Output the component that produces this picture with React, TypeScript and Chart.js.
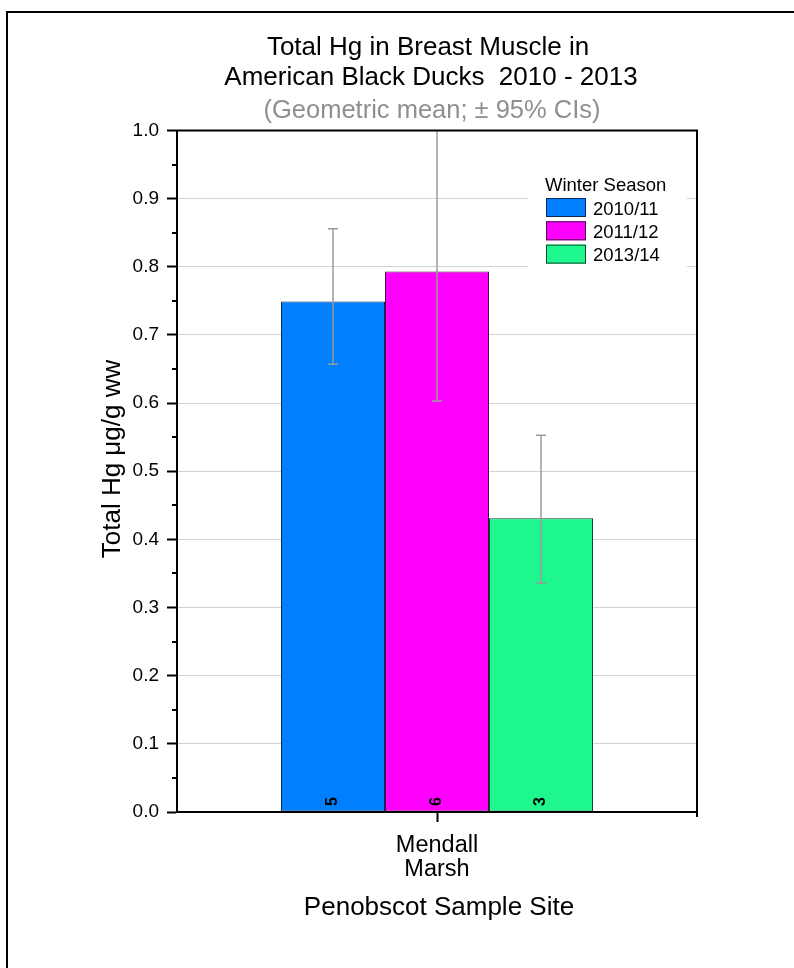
import React, { useEffect, useRef } from 'react';
import { Chart, registerables } from 'chart.js';

Chart.register(...registerables);

// ---------- data ----------
const categories = [['Mendall', 'Marsh']];
const seasons = ['2010/11', '2011/12', '2013/14'];
const geoMeans = [0.749, 0.793, 0.431];
const ciLower = [0.657, 0.603, 0.336];
const ciUpper = [0.856, 1.05, 0.553];
const sampleSizes = ['5', '6', '3'];
const yMin = 0;
const yMax = 1.0;
const yStep = 0.1;

const titleLines = ['Total Hg in Breast Muscle in', 'American Black Ducks  2010 - 2013'];
const subtitle = '(Geometric mean; \u00B1 95% CIs)';
const yTitle = 'Total Hg \u03BCg/g ww';
const xTitle = 'Penobscot Sample Site';
const legendTitle = 'Winter Season';

// ---------- styles ----------
const FONT = '"Liberation Sans", Arial, sans-serif';
const fills = ['#0080FF', '#FF00FF', '#1EF78E'];
const edges = ['#0B2B55', '#4A0B4A', '#0B4A2B'];

const overlay = {
  id: 'overlay',
  afterDatasetsDraw(chart: any) {
    const { ctx, chartArea: ca, scales } = chart;
    const y = scales.y;
    // error bars (clipped to plot area)
    ctx.save();
    ctx.beginPath();
    ctx.rect(ca.left, ca.top, ca.right - ca.left, ca.bottom - ca.top);
    ctx.clip();
    ctx.strokeStyle = '#9b9b9b';
    ctx.lineWidth = 1.5;
    chart.data.datasets.forEach((_ds: any, i: number) => {
      const bar = chart.getDatasetMeta(i).data[0];
      const cx = Math.round(bar.x);
      const yl = y.getPixelForValue(ciLower[i]);
      const yu = y.getPixelForValue(ciUpper[i]);
      ctx.beginPath();
      ctx.moveTo(cx, yl);
      ctx.lineTo(cx, yu);
      ctx.moveTo(cx - 5, yl);
      ctx.lineTo(cx + 5, yl);
      ctx.moveTo(cx - 5, yu);
      ctx.lineTo(cx + 5, yu);
      ctx.stroke();
    });
    ctx.restore();

    // sample size labels inside bars
    ctx.save();
    ctx.fillStyle = '#000';
    ctx.font = `bold 16px ${FONT}`;
    ctx.textAlign = 'center';
    ctx.textBaseline = 'middle';
    chart.data.datasets.forEach((_ds: any, i: number) => {
      const bar = chart.getDatasetMeta(i).data[0];
      ctx.save();
      ctx.translate(bar.x, ca.bottom - 10.5);
      ctx.rotate(-Math.PI / 2);
      ctx.fillText(sampleSizes[i], 0, 0);
      ctx.restore();
    });
    ctx.restore();

    // legend
    const lx = ca.right - 169;
    const ly = ca.top + 35;
    ctx.save();
    ctx.fillStyle = '#fff';
    ctx.fillRect(lx, ly, 159, 110);
    ctx.fillStyle = '#000';
    ctx.font = `18.5px ${FONT}`;
    ctx.textAlign = 'left';
    ctx.textBaseline = 'alphabetic';
    ctx.fillText(legendTitle, lx + 17, ly + 25);
    seasons.forEach((s, i) => {
      const by = ly + 32.5 + i * 23.3;
      ctx.fillStyle = fills[i];
      ctx.fillRect(lx + 18, by, 40, 19);
      ctx.strokeStyle = edges[i];
      ctx.lineWidth = 1;
      ctx.strokeRect(lx + 18.5, by + 0.5, 39, 18);
      ctx.fillStyle = '#000';
      ctx.fillText(s, lx + 65, by + 16.5);
    });
    ctx.restore();
  },
  afterDraw(chart: any) {
    const { ctx, chartArea: ca, scales } = chart;
    const y = scales.y;
    ctx.save();
    // minor ticks
    ctx.strokeStyle = '#000';
    ctx.lineWidth = 2;
    const majors = y.ticks.map((t: any) => t.value);
    for (let k = 0; k < majors.length - 1; k++) {
      const v = (majors[k] + majors[k + 1]) / 2;
      const py = Math.round(y.getPixelForValue(v));
      ctx.beginPath();
      ctx.moveTo(ca.left - 5, py);
      ctx.lineTo(ca.left, py);
      ctx.stroke();
    }
    // top and right frame of plot
    ctx.beginPath();
    ctx.moveTo(ca.left - 1, ca.top);
    ctx.lineTo(ca.right, ca.top);
    ctx.lineTo(ca.right, ca.bottom + 5);
    ctx.stroke();

    // outer frame
    ctx.beginPath();
    ctx.rect(7, 12, 900, 1000);
    ctx.stroke();

    // titles
    ctx.fillStyle = '#000';
    ctx.textAlign = 'center';
    ctx.textBaseline = 'alphabetic';
    ctx.font = `26px ${FONT}`;
    ctx.fillText(titleLines[0], 428, 55);
    ctx.fillText(titleLines[1], 431, 85);
    ctx.fillStyle = '#8f8f8f';
    ctx.font = `25.5px ${FONT}`;
    ctx.fillText(subtitle, 432, 118);

    // axis titles
    ctx.fillStyle = '#000';
    ctx.font = `26px ${FONT}`;
    ctx.textBaseline = 'middle';
    ctx.fillText(xTitle, 439, 908);
    ctx.save();
    ctx.translate(113, 459);
    ctx.rotate(-Math.PI / 2);
    ctx.fillText(yTitle, 0, 0);
    ctx.restore();
    ctx.restore();
  },
};

export default function App() {
  const ref = useRef<HTMLCanvasElement | null>(null);
  useEffect(() => {
    document.body.style.margin = '0';
    const canvas = ref.current;
    if (!canvas) return;
    const chart = new Chart(canvas, {
      type: 'bar',
      data: {
        labels: categories as any,
        datasets: seasons.map((s, i) => ({
          label: s,
          data: [geoMeans[i]],
          backgroundColor: fills[i],
          borderColor: edges[i],
          borderWidth: 1,
          borderSkipped: false,
          categoryPercentage: 0.6,
          barPercentage: 1.0,
        })),
      },
      options: {
        animation: false,
        responsive: false,
        devicePixelRatio: 1,
        layout: { padding: { left: 0, top: 130.5, right: 97, bottom: 66 } },
        plugins: {
          legend: { display: false },
          title: { display: false },
          tooltip: { enabled: false },
        },
        scales: {
          x: {
            type: 'category',
            offset: true,
            afterFit: (s: any) => {
              s.height = 90;
            },
            grid: {
              display: true,
              drawOnChartArea: false,
              drawTicks: true,
              offset: false,
              tickLength: 10,
              tickWidth: 2,
              tickColor: '#000',
            },
            border: { display: true, color: '#000', width: 2, z: 1 },
            ticks: {
              color: '#000',
              padding: 12,
              maxRotation: 0,
              font: { family: FONT, size: 23.5, lineHeight: 1.0 },
            },
          },
          y: {
            min: yMin,
            max: yMax,
            afterFit: (s: any) => {
              s.width = 177;
            },
            grid: {
              color: '#d2d2d2',
              lineWidth: 1,
              drawTicks: true,
              tickLength: 10,
              tickWidth: 2,
              tickColor: '#000',
            },
            border: { display: true, color: '#000', width: 2, z: 1 },
            ticks: {
              stepSize: yStep,
              color: '#000',
              padding: 8,
              font: { family: FONT, size: 19 },
              callback: (v: any) => Number(v).toFixed(1),
            },
          },
        },
      },
      plugins: [overlay],
    });
    return () => chart.destroy();
  }, []);
  return (
    <div style={{ width: 794, height: 968 }}>
      <canvas ref={ref} width={794} height={968} style={{ display: 'block' }} />
    </div>
  );
}
